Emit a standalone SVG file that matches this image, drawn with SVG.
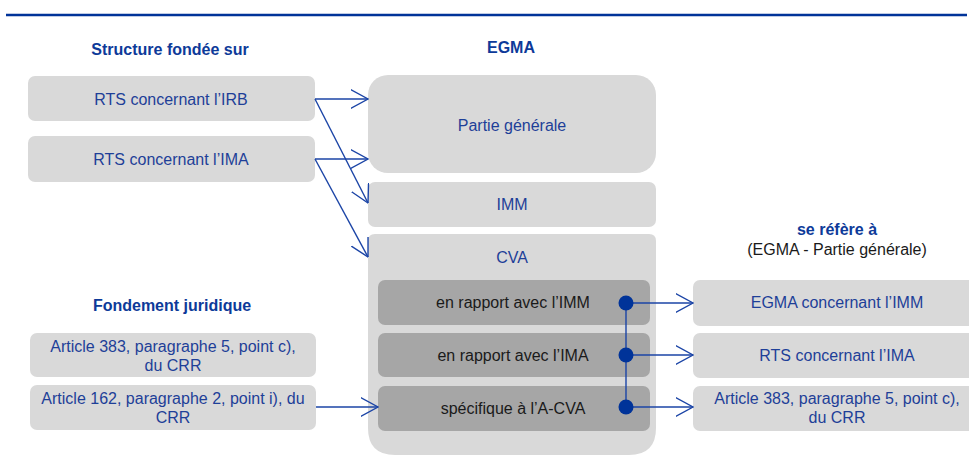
<svg xmlns="http://www.w3.org/2000/svg" width="969" height="462" viewBox="0 0 969 462">
<defs>
<style>
text{font-family:"Liberation Sans",Arial,sans-serif;font-size:16px;text-anchor:middle}
.b{fill:#1e3f98}
.k{fill:#1a1a1a}
.h{font-weight:bold;fill:#0d3a99}
.box{fill:#d9d9d9}
.in{fill:#a6a6a6}
.ln{stroke:#1b44a6;stroke-width:1.4;fill:none}
.dot{fill:#003399}
</style>
<marker id="ar" viewBox="0 0 18 20" refX="17.5" refY="10" markerWidth="18" markerHeight="20" markerUnits="userSpaceOnUse" orient="auto">
<path d="M0,0.5 L17.5,10 L0,19.5" fill="none" stroke="#1b44a6" stroke-width="1.4"/>
</marker>
</defs>
<rect x="0" y="0" width="969" height="462" fill="#ffffff"/>
<line x1="6" y1="15" x2="967" y2="15" stroke="#003399" stroke-width="2.5"/>

<g id="titles">
<text class="h" x="170" y="55">Structure fondée sur</text>
<text class="h" x="511" y="53">EGMA</text>
<text class="h" x="172" y="311">Fondement juridique</text>
<text class="h" x="837" y="235">se réfère à</text>
<text class="k" x="837" y="255">(EGMA - Partie générale)</text>
</g>

<g id="rts-irb"><rect class="box" x="28" y="76" width="287" height="45" rx="7"/><text class="b" x="171" y="105">RTS concernant l’IRB</text></g>
<g id="rts-ima"><rect class="box" x="28" y="136" width="287" height="46" rx="7"/><text class="b" x="171" y="165">RTS concernant l’IMA</text></g>
<g id="art383-left"><rect class="box" x="30" y="333" width="286" height="44" rx="7"/><text class="b" x="173" y="352">Article 383, paragraphe 5, point c),</text><text class="b" x="173" y="371">du CRR</text></g>
<g id="art162"><rect class="box" x="30" y="385" width="286" height="45" rx="7"/><text class="b" x="173" y="404">Article 162, paragraphe 2, point i), du</text><text class="b" x="173" y="423">CRR</text></g>

<g id="partie-generale"><rect class="box" x="368" y="75" width="288" height="98" rx="20"/><text class="b" x="512" y="131">Partie générale</text></g>
<g id="imm"><rect class="box" x="368" y="182" width="288" height="45" rx="7"/><text class="b" x="512" y="210">IMM</text></g>
<g id="cva">
<path class="box" d="M375,234 H649 Q656,234 656,241 V428 Q656,455 629,455 H395 Q368,455 368,428 V241 Q368,234 375,234 Z"/>
<text class="b" x="512" y="263">CVA</text>
</g>
<g id="cva-imm"><rect class="in" x="378" y="280" width="272" height="45" rx="7"/><text class="k" x="513" y="308">en rapport avec l’IMM</text></g>
<g id="cva-ima"><rect class="in" x="378" y="333" width="272" height="44" rx="7"/><text class="k" x="513" y="361">en rapport avec l’IMA</text></g>
<g id="cva-acva"><rect class="in" x="378" y="386" width="272" height="45" rx="7"/><text class="k" x="513" y="414">spécifique à l’A-CVA</text></g>

<g id="egma-imm"><rect class="box" x="693" y="280" width="290" height="46" rx="7"/><text class="b" x="837" y="308">EGMA concernant l’IMM</text></g>
<g id="rts-ima-right"><rect class="box" x="693" y="333" width="290" height="45" rx="7"/><text class="b" x="837" y="361">RTS concernant l’IMA</text></g>
<g id="art383-right"><rect class="box" x="693" y="386" width="290" height="45" rx="7"/><text class="b" x="837" y="404">Article 383, paragraphe 5, point c),</text><text class="b" x="837" y="423">du CRR</text></g>

<g id="connectors">
<line class="ln" x1="315" y1="99" x2="368" y2="99" marker-end="url(#ar)"/>
<line class="ln" x1="315" y1="99" x2="368" y2="203" marker-end="url(#ar)"/>
<line class="ln" x1="315" y1="159" x2="368" y2="159" marker-end="url(#ar)"/>
<line class="ln" x1="315" y1="159" x2="368" y2="257" marker-end="url(#ar)"/>
<line class="ln" x1="316" y1="407" x2="378" y2="407" marker-end="url(#ar)"/>
<line class="ln" x1="626" y1="303" x2="626" y2="407"/>
<line class="ln" x1="626" y1="303" x2="693" y2="303" marker-end="url(#ar)"/>
<line class="ln" x1="626" y1="355" x2="693" y2="355" marker-end="url(#ar)"/>
<line class="ln" x1="626" y1="407" x2="693" y2="407" marker-end="url(#ar)"/>
<circle class="dot" cx="626" cy="303" r="7.5"/>
<circle class="dot" cx="626" cy="355" r="7.5"/>
<circle class="dot" cx="626" cy="407" r="7.5"/>
</g>
</svg>
